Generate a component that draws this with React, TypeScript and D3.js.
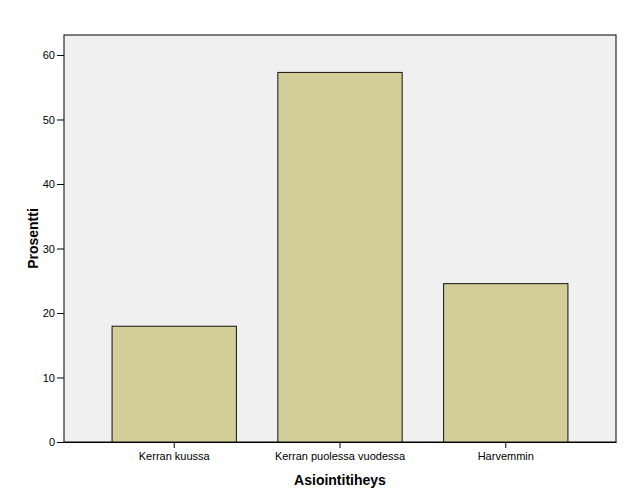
import { useEffect, useRef } from "react";
import * as d3 from "d3";

const categories = ["Kerran kuussa", "Kerran puolessa vuodessa", "Harvemmin"];
const percents = [17.95, 57.3, 24.55];
const yTicks = [0, 10, 20, 30, 40, 50, 60];

const App = () => {
  const ref = useRef<SVGSVGElement | null>(null);

  useEffect(() => {
    if (!ref.current) return;
    const svg = d3.select(ref.current);
    svg.selectAll("*").remove();

    const left = 64;
    const right = 616;
    const top = 35;
    const bottom = 442;

    const x = d3
      .scaleBand()
      .domain(categories)
      .range([left, right])
      .paddingInner(0.25)
      .paddingOuter(0.29);
    const y = d3.scaleLinear().domain([0, 63.1]).range([bottom, top]);

    // plot background
    svg
      .append("rect")
      .attr("x", left)
      .attr("y", top)
      .attr("width", right - left)
      .attr("height", bottom - top)
      .attr("fill", "#f0f0f0")
      .attr("stroke", "#000")
      .attr("stroke-width", 1);

    svg
      .append("g")
      .selectAll("rect")
      .data(percents)
      .join("rect")
      .attr("x", (_d, i) => x(categories[i])!)
      .attr("y", (d) => y(d))
      .attr("width", x.bandwidth())
      .attr("height", (d) => bottom - y(d))
      .attr("fill", "#d3ce97")
      .attr("stroke", "#111")
      .attr("stroke-width", 1);

    const yAxis = d3
      .axisLeft(y)
      .tickValues(yTicks)
      .tickSize(7)
      .tickSizeOuter(0)
      .tickPadding(2);
    const gy = svg.append("g").attr("transform", `translate(${left},0)`).call(yAxis);
    gy.select(".domain").remove();
    gy.selectAll("text")
      .attr("font-family", "Arial, 'Liberation Sans', sans-serif")
      .attr("font-size", 11)
      .attr("fill", "#000");
    gy.selectAll("line").attr("stroke", "#000");

    const xAxis = d3.axisBottom(x).tickSize(6).tickSizeOuter(0).tickPadding(4);
    const gx = svg.append("g").attr("transform", `translate(0,${bottom})`).call(xAxis);
    gx.select(".domain").attr("stroke", "#000");
    gx.selectAll("text")
      .attr("font-family", "Arial, 'Liberation Sans', sans-serif")
      .attr("font-size", 11)
      .attr("fill", "#000");
    gx.selectAll("line").attr("stroke", "#000");

    svg
      .append("text")
      .attr("x", (left + right) / 2 + 0)
      .attr("y", 485)
      .attr("text-anchor", "middle")
      .attr("font-family", "Arial, 'Liberation Sans', sans-serif")
      .attr("font-size", 14)
      .attr("font-weight", "bold")
      .text("Asiointitiheys");

    svg
      .append("text")
      .attr("transform", `translate(38,${(top + bottom) / 2}) rotate(-90)`)
      .attr("text-anchor", "middle")
      .attr("font-family", "Arial, 'Liberation Sans', sans-serif")
      .attr("font-size", 14)
      .attr("font-weight", "bold")
      .text("Prosentti");
  }, []);

  return (
    <svg
      ref={ref}
      width={629}
      height={504}
      style={{ position: "absolute", left: 0, top: 0, background: "#fff" }}
    />
  );
};

export default App;
